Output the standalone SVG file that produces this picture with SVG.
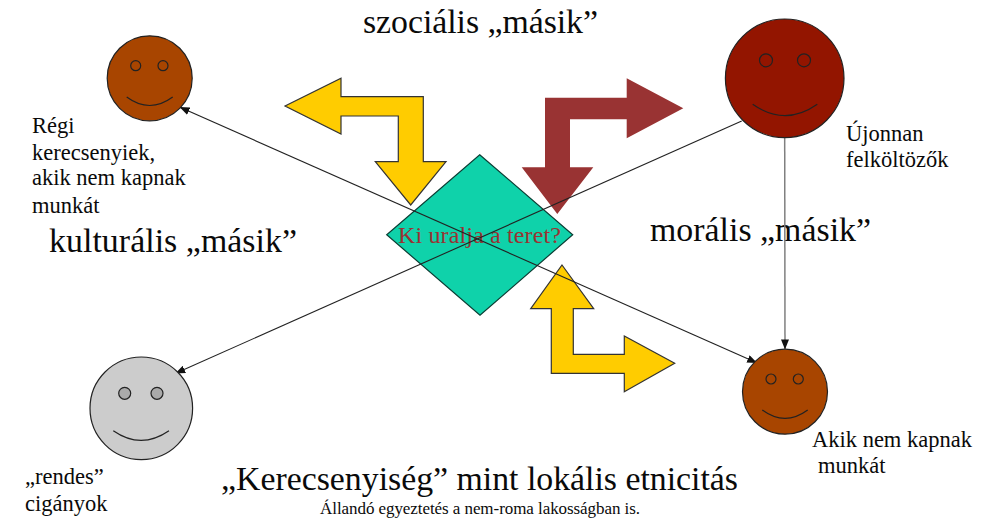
<svg xmlns="http://www.w3.org/2000/svg" width="993" height="518" viewBox="0 0 993 518">
<style>
text{font-family:"Liberation Serif","Times New Roman",serif;fill:#0a0a0a}
.big{font-size:33.8px}
.lab{font-size:22.5px}
.arrow{stroke:#333;stroke-width:1.2;stroke-linejoin:miter}
.y{fill:#ffcc00}
.r{fill:#993333;stroke:none}
.face{stroke:#222;stroke-width:1.2}
.eye{stroke:#222;stroke-width:1.2}
.mouth{fill:none;stroke:#222;stroke-width:1.2}
.brown{fill:#a84500}
.dark{fill:#931500}
.grey{fill:#cccccc}
.cn{fill:none;stroke:#222;stroke-width:1.1}
</style>
<defs>
<marker id="ah" markerWidth="10" markerHeight="8" refX="9.5" refY="4" orient="auto-start-reverse" markerUnits="userSpaceOnUse"><path d="M0 0L10 4L0 8Z" fill="#111"/></marker>
</defs>
<rect width="993" height="518" fill="#fff"/>
<g id="center"><polygon points="479.7,154.7 572.7,234.7 480,315.3 386.7,234.7" fill="#0fd2aa" stroke="#0b3d33" stroke-width="1.2"/></g>
<g id="arrow-social"><polygon class="arrow y" points="285,106 341,78.3 341,96.7 423.3,96.7 423.3,161.7 446,161.7 410.7,205 375.3,161.7 398.3,161.7 398.3,116 341,116 341,134"/></g>
<g id="arrow-moral"><polygon class="r" points="683.3,108.3 626.7,78.3 626.7,97.7 545,97.7 545,167.3 521.7,167.3 557.3,214 593.3,167.3 570,167.3 570,119.3 626.7,119.3 626.7,138.3"/></g>
<g id="arrow-local"><polygon class="arrow y" points="562,265 593.7,308.7 573.3,308.7 573.3,354.3 624.3,354.3 624.3,336 674.7,363.3 624.3,391.7 624.3,373.3 551.3,373.3 551.3,308.7 530.7,308.7"/></g>
<g id="center-label"><text x="398" y="243" textLength="163" style="font-size:24px;fill:#993333">Ki uralja a teret?</text></g>
<g id="labels">
<text class="big" x="363" y="33" textLength="235">szociális „másik”</text>
<text class="big" x="49" y="252" textLength="248">kulturális „másik”</text>
<text class="big" x="650" y="241" textLength="221">morális „másik”</text>
<text class="big" x="221" y="490" textLength="517">„Kerecsenyiség” mint lokális etnicitás</text>
<text x="320" y="514" textLength="320" style="font-size:17px">Állandó egyeztetés a nem-roma lakosságban is.</text>
<text class="lab" x="32" y="133">Régi</text>
<text class="lab" x="32" y="160">kerecsenyiek,</text>
<text class="lab" x="32" y="185">akik nem kapnak</text>
<text class="lab" x="32" y="213">munkát</text>
<text class="lab" x="846" y="141">Újonnan</text>
<text class="lab" x="846" y="167">felköltözők</text>
<text class="lab" x="812" y="447">Akik nem kapnak</text>
<text class="lab" x="818" y="473">munkát</text>
<text class="lab" x="25" y="484">„rendes”</text>
<text class="lab" x="25" y="511">cigányok</text>
</g>
<g id="connectors">
<line class="cn" x1="756.7" y1="362.7" x2="180" y2="107.3" marker-start="url(#ah)" marker-end="url(#ah)"/>
<line class="cn" x1="741.7" y1="121" x2="175.7" y2="373.3" marker-end="url(#ah)"/>
<line x1="784.7" y1="137" x2="785" y2="349" fill="none" stroke="#808080" stroke-width="1.5" marker-end="url(#ah)"/>
</g>
<g id="face-old"><circle class="face brown" cx="149.7" cy="78.3" r="42.5"/><circle class="eye brown" cx="135.7" cy="65.7" r="5"/><circle class="eye brown" cx="163" cy="65.7" r="5"/><path class="mouth" d="M126.7 97Q149.7 114 172.7 97"/></g>
<g id="face-new"><circle class="face dark" cx="784.7" cy="78.3" r="59.3"/><circle class="eye dark" cx="766" cy="60.3" r="6.5"/><circle class="eye dark" cx="804" cy="60.3" r="6.5"/><path class="mouth" d="M752.7 104.3Q785 127 817.3 104.3"/></g>
<g id="face-jobless"><circle class="face brown" cx="785" cy="391.7" r="42.5"/><circle class="eye brown" cx="771" cy="379" r="5"/><circle class="eye brown" cx="798.3" cy="379" r="5"/><path class="mouth" d="M762.3 410Q785 426.7 807.7 410"/></g>
<g id="face-roma"><circle class="face grey" cx="141.3" cy="408.3" r="51.3"/><circle class="eye" cx="124.7" cy="393.3" r="6" fill="#aaa"/><circle class="eye" cx="157" cy="393.3" r="6" fill="#aaa"/><path class="mouth" d="M113.3 430.7Q141 450 169 430.7"/></g>
</svg>
